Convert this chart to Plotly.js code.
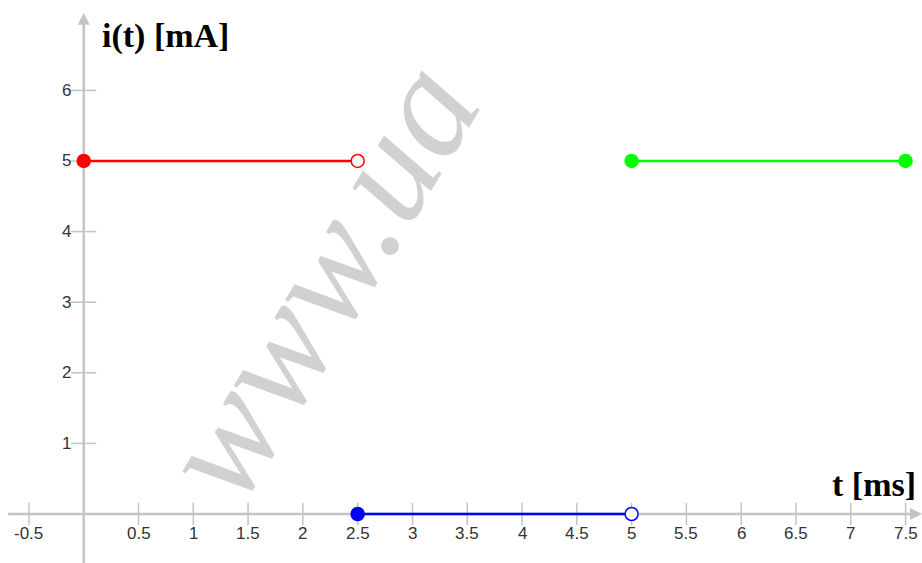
<!DOCTYPE html>
<html>
<head>
<meta charset="utf-8">
<script src="https://cdn.plot.ly/plotly-3.0.1.min.js"></script>
<style>html,body{margin:0;padding:0;background:#fff;}#chart{width:922px;height:563px;}</style>
</head>
<body>
<div id="chart"></div>
<script>
// Data
const redT = [0, 2.5];
const redI = [5, 5];
const blueT = [2.5, 5];
const blueI = [0, 0];
const greenT = [5, 7.5];
const greenI = [5, 5];
const xTicks = [-0.5, 0.5, 1, 1.5, 2, 2.5, 3, 3.5, 4, 4.5, 5, 5.5, 6, 6.5, 7, 7.5];
const xTickLabels = ["-0.5", "0.5", "1", "1.5", "2", "2.5", "3", "3.5", "4", "4.5", "5", "5.5", "6", "6.5", "7", "7.5"];
const yTicks = [1, 2, 3, 4, 5, 6];
const yTickLabels = ["1", "2", "3", "4", "5", "6"];

const axisColor = '#c4c4c4';
const tickFont = {family: 'Liberation Sans, Arial, sans-serif', size: 17, color: '#333'};

function seg(x, y, color, closedStart, closedEnd) {
  return [
    {x: x, y: y, mode: 'lines', line: {color: color, width: 2.5}, hoverinfo: 'skip', showlegend: false},
    {x: [x[0]], y: [y[0]], mode: 'markers', showlegend: false,
     marker: {size: 13, color: closedStart ? color : '#fff', line: {color: color, width: 1.5}}},
    {x: [x[1]], y: [y[1]], mode: 'markers', showlegend: false,
     marker: {size: 13, color: closedEnd ? color : '#fff', line: {color: color, width: 1.5}}}
  ];
}

const traces = [
  // tick marks
  {x: xTicks, y: xTicks.map(() => 0), mode: 'markers', showlegend: false, hoverinfo: 'skip',
   marker: {symbol: 'line-ns', size: 16, line: {color: axisColor, width: 1.5}}},
  {x: yTicks.map(() => 0), y: yTicks, mode: 'markers', showlegend: false, hoverinfo: 'skip',
   marker: {symbol: 'line-ew', size: 18, line: {color: axisColor, width: 1.5}}}
].concat(
  seg(redT, redI, '#ff0000', true, false),
  seg(blueT, blueI, '#0000ff', true, false),
  seg(greenT, greenI, '#00ff00', true, true)
);

const annotations = [
  // watermark
  {xref: 'paper', yref: 'paper', x: 318 / 922, y: 1 - 280 / 563, text: 'www.ua', showarrow: false, textangle: -59,
   font: {family: 'Liberation Serif, serif', size: 150, color: 'rgba(190,190,190,0.7)', style: 'italic'}},
  // axis titles
  {xref: 'paper', yref: 'paper', x: 100 / 922, y: 1 - 36 / 563, xanchor: 'left', yanchor: 'middle',
   text: '<b>i(t) [mA]</b>', showarrow: false,
   font: {family: 'Liberation Serif, Times New Roman, serif', size: 34, color: '#000'}},
  {xref: 'paper', yref: 'paper', x: 918 / 922, y: 1 - 484 / 563, xanchor: 'right', yanchor: 'middle',
   text: '<b>t [ms]</b>', showarrow: false,
   font: {family: 'Liberation Serif, Times New Roman, serif', size: 34, color: '#000'}}
];
xTicks.forEach((v, i) => annotations.push({x: v, y: 0, xref: 'x', yref: 'y', text: xTickLabels[i], showarrow: false,
  xanchor: 'center', yanchor: 'middle', yshift: -19, font: tickFont}));
yTicks.forEach((v, i) => annotations.push({x: 0, y: v, xref: 'x', yref: 'y', text: yTickLabels[i], showarrow: false,
  xanchor: 'right', yanchor: 'middle', xshift: -11, font: tickFont}));

const layout = {
  width: 922, height: 563,
  margin: {l: 0, r: 0, t: 0, b: 0},
  paper_bgcolor: '#fff', plot_bgcolor: '#fff',
  xaxis: {range: [-0.764, 7.65], visible: false, fixedrange: true},
  yaxis: {range: [-0.694, 7.28], visible: false, fixedrange: true},
  shapes: [
    {type: 'line', xref: 'x', yref: 'y', x0: -0.69, x1: 7.58, y0: 0, y1: 0, layer: 'below',
     line: {color: axisColor, width: 2.5}},
    {type: 'line', xref: 'x', yref: 'y', x0: 0, x1: 0, y0: -0.7, y1: 7.0, layer: 'below',
     line: {color: axisColor, width: 2.5}},
    {type: 'path', xref: 'x', yref: 'y', xsizemode: 'pixel', ysizemode: 'pixel', xanchor: 7.65, yanchor: 0,
     path: 'M 0 0 L -12 6 L -12 -6 Z', fillcolor: axisColor, line: {width: 0}, layer: 'below'},
    {type: 'path', xref: 'x', yref: 'y', xsizemode: 'pixel', ysizemode: 'pixel', xanchor: 0, yanchor: 7.1,
     path: 'M 0 0 L -6 -12 L 6 -12 Z', fillcolor: axisColor, line: {width: 0}, layer: 'below'}
  ],
  annotations: annotations
};

Plotly.newPlot('chart', traces, layout, {displayModeBar: false, staticPlot: true});
</script>
</body>
</html>
